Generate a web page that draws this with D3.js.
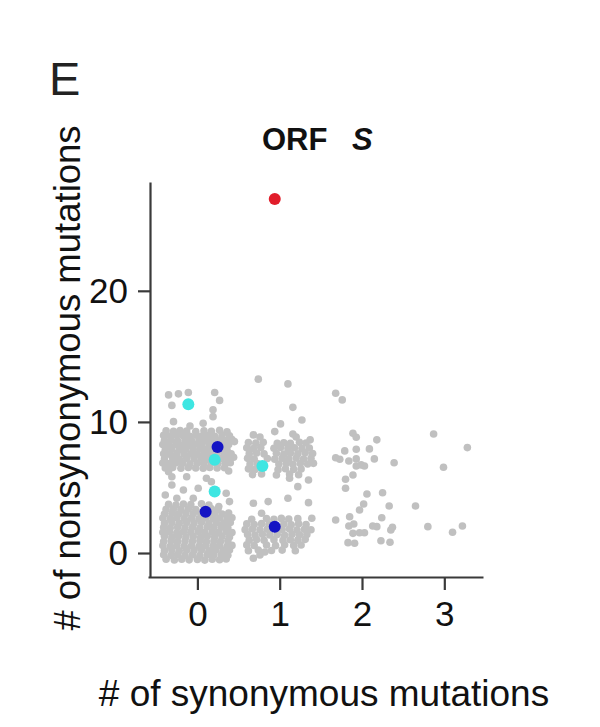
<!DOCTYPE html>
<html><head><meta charset="utf-8">
<script src="https://cdn.jsdelivr.net/npm/d3@7"></script>
<style>body{margin:0;background:#fff}svg{display:block}</style>
</head><body><div id="chart"></div>
<script>
const panelLabel = "E";
const titleMain = "ORF";
const titleItalic = "S";
const xLabel = "# of synonymous mutations";
const yLabel = "# of nonsynonymous mutations";
const xTicks = [0, 1, 2, 3];
const yTicks = [0, 10, 20];

// gray: all ORF S variants (synonymous, nonsynonymous), jittered
const grayPoints = [
// x ~ 0, upper scattered
[-0.35,12.06],[-0.23,12.14],[-0.11,12.24],[0.21,12.24],[0.27,11.64],[-0.31,11.26],[0.19,10.92],[0.19,10.40],[-0.29,10.02],[-0.09,9.69],[0.07,9.90],
// x ~ 0, y ~ 7-8 block
[-0.38,9.32],[-0.29,9.28],[-0.21,9.35],[-0.13,9.30],[-0.02,9.27],[0.08,9.33],[0.17,9.29],[0.27,9.36],[0.36,9.25],
[-0.41,8.97],[-0.33,8.92],[-0.25,8.99],[-0.17,8.94],[-0.09,8.90],[-0.01,8.98],[0.06,8.93],[0.13,8.96],[0.21,8.91],[0.30,8.99],[0.39,8.94],
[-0.40,8.58],[-0.32,8.63],[-0.24,8.56],[-0.15,8.61],[-0.07,8.57],[0.02,8.64],[0.10,8.59],[0.18,8.55],[0.27,8.62],[0.35,8.58],[0.42,8.66],
[-0.42,8.27],[-0.34,8.22],[-0.26,8.28],[-0.18,8.24],[-0.10,8.21],[-0.03,8.29],[0.05,8.23],[0.14,8.26],[0.31,8.22],[0.38,8.28],
[-0.39,7.88],[-0.31,7.93],[-0.22,7.86],[-0.14,7.91],[-0.05,7.87],[0.03,7.94],[0.11,7.89],[0.19,7.85],[0.28,7.92],[0.36,7.88],
[-0.41,7.57],[-0.33,7.52],[-0.25,7.58],[-0.16,7.53],[-0.08,7.56],[0.00,7.51],[0.08,7.58],[0.16,7.54],[0.24,7.59],[0.33,7.52],[0.41,7.57],
[-0.40,7.18],[-0.30,7.23],[-0.22,7.17],[-0.13,7.22],[-0.04,7.19],[0.05,7.24],[0.13,7.16],[0.29,7.21],[0.37,7.18],
[-0.42,6.87],[-0.34,6.82],[-0.26,6.88],[-0.18,6.84],[-0.09,6.81],[0.00,6.86],[0.08,6.83],[0.17,6.89],[0.25,6.84],[0.34,6.81],[0.40,6.88],
[-0.39,6.48],[-0.30,6.53],[-0.20,6.47],[-0.11,6.52],[-0.02,6.49],[0.07,6.46],[0.15,6.52],[0.24,6.48],[0.33,6.51],
[0.38,6.25],[-0.35,6.20],[0.44,7.30],[0.45,8.50],
// x ~ 0, between blocks
[-0.31,5.82],[-0.31,5.19],[-0.13,5.82],[0.11,5.70],[0.17,5.44],[-0.39,4.43],[-0.17,4.81],[0.01,4.94],[0.35,4.56],[0.39,3.92],[-0.25,4.18],[-0.05,4.18],
// x ~ 0, y ~ 0-3 block
[-0.35,3.72],[-0.26,3.66],[-0.17,3.74],[-0.08,3.69],[0.05,3.75],[0.14,3.65],[0.26,3.55],
[-0.38,3.33],[-0.29,3.38],[-0.20,3.31],[-0.11,3.36],[-0.02,3.32],[0.17,3.38],[0.25,3.30],
[-0.40,2.98],[-0.31,3.03],[-0.23,2.97],[-0.14,3.02],[-0.05,2.99],[0.04,3.04],[0.13,2.96],[0.21,3.01],[0.30,2.98],[0.38,3.05],
[-0.42,2.67],[-0.33,2.62],[-0.25,2.68],[-0.16,2.63],[-0.07,2.66],[0.02,2.61],[0.10,2.68],[0.19,2.63],[0.27,2.67],[0.36,2.62],[0.42,2.69],
[-0.40,2.28],[-0.31,2.33],[-0.22,2.27],[-0.13,2.32],[-0.04,2.29],[0.05,2.34],[0.14,2.26],[0.23,2.31],[0.32,2.28],[0.40,2.33],
[-0.41,1.97],[-0.33,1.92],[-0.24,1.98],[-0.15,1.93],[-0.06,1.96],[0.03,1.91],[0.12,1.98],[0.20,1.94],[0.29,1.97],[0.37,1.92],
[-0.42,1.58],[-0.34,1.63],[-0.25,1.57],[-0.17,1.62],[-0.08,1.59],[0.01,1.64],[0.09,1.56],[0.18,1.61],[0.26,1.58],[0.35,1.63],[0.42,1.57],
[-0.40,1.27],[-0.31,1.22],[-0.23,1.28],[-0.14,1.23],[-0.05,1.26],[0.04,1.21],[0.12,1.28],[0.21,1.24],[0.30,1.27],[0.39,1.22],
[-0.41,0.88],[-0.32,0.93],[-0.24,0.87],[-0.15,0.92],[-0.06,0.89],[0.03,0.94],[0.11,0.86],[0.20,0.91],[0.28,0.88],[0.37,0.93],
[-0.42,0.57],[-0.33,0.52],[-0.25,0.58],[-0.16,0.53],[-0.07,0.56],[0.02,0.51],[0.10,0.58],[0.19,0.54],[0.27,0.57],[0.36,0.52],[0.42,0.58],
[-0.40,0.18],[-0.31,0.23],[-0.22,0.17],[-0.13,0.22],[-0.04,0.19],[0.05,0.24],[0.14,0.16],[0.22,0.21],[0.31,0.18],[0.39,0.23],
[-0.41,-0.13],[-0.32,-0.18],[-0.24,-0.12],[-0.15,-0.17],[-0.06,-0.14],[0.03,-0.19],[0.12,-0.12],[0.20,-0.16],[0.29,-0.13],[0.37,-0.18],
[-0.38,-0.48],[-0.28,-0.53],[-0.19,-0.47],[-0.10,-0.52],[0.00,-0.49],[0.09,-0.54],[0.18,-0.47],[0.27,-0.51],[0.35,-0.46],
// x ~ 1, upper scattered
[0.74,13.26],[1.10,12.90],[1.16,11.11],[1.27,10.15],[1.01,9.85],[0.94,9.26],[1.16,9.08],[1.20,8.85],[0.68,9.01],[0.76,8.85],[1.37,8.63],
// x ~ 1, y ~ 6-8 block
[0.62,8.42],[0.71,8.38],[0.80,8.44],[0.97,8.36],[1.05,8.41],[1.13,8.37],[1.24,8.44],[1.32,8.39],
[0.60,8.02],[0.68,7.97],[0.77,8.04],[0.93,7.99],[1.01,8.05],[1.10,7.98],[1.18,8.03],[1.27,7.96],[1.36,8.01],
[0.63,7.58],[0.72,7.63],[0.81,7.56],[0.96,7.61],[1.05,7.55],[1.13,7.62],[1.22,7.57],[1.31,7.64],[1.40,7.59],
[0.61,7.22],[0.69,7.17],[0.85,7.21],[0.94,7.16],[1.03,7.23],[1.11,7.18],[1.20,7.24],[1.29,7.17],[1.38,7.22],
[0.64,6.78],[0.73,6.83],[0.99,6.79],[1.08,6.84],[1.16,6.77],[1.25,6.82],[1.34,6.79],[1.41,6.84],
[0.62,6.42],[0.70,6.37],[0.79,6.44],[0.98,6.36],[1.07,6.43],[1.17,6.38],[1.26,6.41],
[0.67,5.98],[0.78,6.03],[0.96,5.95],[1.12,6.02],[1.23,5.97],
[1.12,5.70],[1.35,5.57],[1.22,5.06],
// x ~ 1, y ~ 0-3 block
[0.68,3.79],[0.86,3.92],[1.10,4.18],[1.35,3.84],[0.78,3.03],[1.39,2.65],
[0.66,2.58],[0.84,2.63],[0.93,2.57],[1.02,2.64],[1.11,2.59],[1.22,2.62],
[0.60,2.22],[0.69,2.17],[0.78,2.24],[0.87,2.19],[1.05,2.21],[1.14,2.16],[1.23,2.23],[1.32,2.18],
[0.58,1.78],[0.67,1.83],[0.76,1.77],[0.85,1.82],[1.03,1.79],[1.12,1.84],[1.21,1.76],[1.30,1.81],[1.38,1.77],
[0.61,1.42],[0.70,1.37],[0.79,1.43],[0.88,1.38],[0.97,1.41],[1.06,1.36],[1.15,1.43],[1.24,1.39],[1.33,1.42],
[0.63,0.98],[0.72,1.03],[0.81,0.97],[0.93,1.02],[1.04,0.96],[1.13,1.01],[1.22,0.98],[1.31,1.04],
[0.60,0.62],[0.69,0.57],[0.84,0.61],[0.95,0.56],[1.06,0.63],[1.17,0.58],[1.26,0.61],
[0.62,0.18],[0.74,0.23],[0.90,0.19],[1.03,0.22],[1.19,0.17],
[0.68,-0.40],[0.76,-0.15],[0.82,0.08],
// x ~ 2 and 3
[1.68,12.19],[1.76,11.68],[1.89,9.14],[1.93,8.83],[2.18,8.63],[2.87,9.08],[3.28,8.04],
[1.79,7.79],[1.93,7.92],[2.09,7.94],[1.68,7.27],[1.73,7.15],[1.84,7.02],[1.93,7.18],[2.15,7.18],[2.39,6.89],
[1.93,6.64],[1.99,6.72],[2.03,6.64],[2.99,6.54],[1.89,5.95],[1.80,5.63],[1.80,4.94],[2.06,4.50],[2.25,4.60],
[2.02,3.74],[2.33,3.59],[2.65,3.59],[1.97,3.28],[1.68,2.52],[1.85,2.77],[2.24,2.69],[1.84,2.06],[1.90,2.21],
[1.89,1.50],[1.97,1.55],[2.03,1.55],[2.13,2.06],[2.18,2.01],[2.37,1.96],[2.35,1.76],[2.80,2.01],[3.22,2.06],
[3.10,1.58],[2.23,0.94],[2.34,0.82],[1.83,0.79],[1.91,0.74]
];
const cyanPoints = [[-0.11,11.35],[0.21,7.12],[0.21,4.69],[0.79,6.64]];
const bluePoints = [[0.245,8.08],[0.10,3.15],[0.94,2.00]];
const redPoints  = [[0.94,27.0]];

const W = 600, H = 727;
const svg = d3.select("#chart").append("svg").attr("width", W).attr("height", H)
  .style("font-family", "'Liberation Sans', Arial, sans-serif");
svg.append("rect").attr("width", W).attr("height", H).attr("fill", "#fff");

const x = d3.scaleLinear().domain([-0.6, 3.47]).range([148, 483]);
const y = d3.scaleLinear().domain([-1.83, 28.3]).range([577, 182]);

// points
const pts = svg.append("g");
pts.selectAll("circle.g").data(grayPoints).join("circle").attr("class","g")
  .attr("cx", d => x(d[0])).attr("cy", d => y(d[1])).attr("r", 3.8).attr("fill", "#c0c0c0");
pts.selectAll("circle.c").data(cyanPoints).join("circle").attr("class","c")
  .attr("cx", d => x(d[0])).attr("cy", d => y(d[1])).attr("r", 6).attr("fill", "#3ee6e2");
pts.selectAll("circle.b").data(bluePoints).join("circle").attr("class","b")
  .attr("cx", d => x(d[0])).attr("cy", d => y(d[1])).attr("r", 6).attr("fill", "#1414c4");
pts.selectAll("circle.r").data(redPoints).join("circle").attr("class","r")
  .attr("cx", d => x(d[0])).attr("cy", d => y(d[1])).attr("r", 6).attr("fill", "#e11d2a");

// axes
const xAxis = svg.append("g").attr("transform", "translate(0,577)")
  .call(d3.axisBottom(x).tickValues(xTicks).tickFormat(d3.format("d")).tickSize(13).tickSizeOuter(0).tickPadding(11));
const yAxis = svg.append("g").attr("transform", "translate(150,0)")
  .call(d3.axisLeft(y).tickValues(yTicks).tickFormat(d3.format("d")).tickSize(12).tickSizeOuter(0).tickPadding(10));
[xAxis, yAxis].forEach(a => {
  a.selectAll("path.domain").attr("stroke", "#3a3a3a").attr("stroke-width", 2.2);
  a.selectAll(".tick line").attr("stroke", "#3a3a3a").attr("stroke-width", 2.2);
  a.selectAll(".tick text").attr("fill", "#111").style("font-size", "35px");
});

// texts
svg.append("text").attr("x", 49).attr("y", 95).attr("fill", "#222")
  .style("font-size", "47px").text(panelLabel);
const t = svg.append("text").attr("x", 262).attr("y", 150).attr("fill", "#111")
  .style("font-size", "31px").style("font-weight", "bold");
t.append("tspan").text(titleMain);
t.append("tspan").attr("x", 352).style("font-style", "italic").text(titleItalic);
svg.append("text").attr("x", 324).attr("y", 706).attr("text-anchor", "middle").attr("fill", "#111")
  .style("font-size", "37px").text(xLabel);
svg.append("text").attr("transform", "translate(80,378) rotate(-90)").attr("text-anchor", "middle").attr("fill", "#111")
  .style("font-size", "36.5px").text(yLabel);
</script></body></html>
